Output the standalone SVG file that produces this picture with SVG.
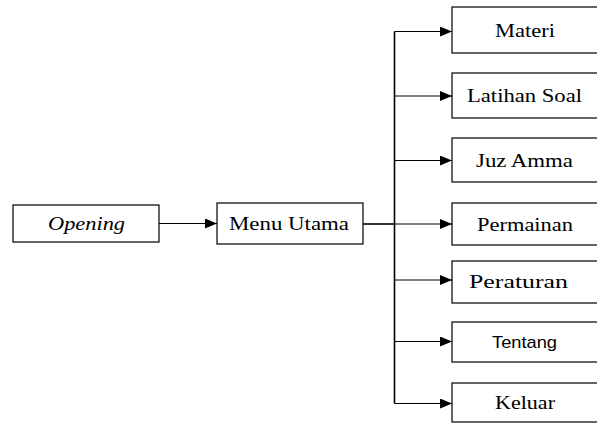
<svg xmlns="http://www.w3.org/2000/svg" width="597" height="423" viewBox="0 0 597 423">
  <defs>
    <marker id="arrow" viewBox="0 0 12 10" refX="12" refY="5" markerWidth="12" markerHeight="10" markerUnits="userSpaceOnUse" orient="auto">
      <path d="M0,0 L12,5 L0,10 Z" fill="#000"/>
    </marker>
  </defs>
  <style>
    .box { fill: #fff; stroke: #000; stroke-width: 1.2; }
    .lbl { font-family: "Liberation Serif", "Times New Roman", serif; font-size: 19px; fill: #000; text-anchor: middle; }
    .sans { font-family: "Liberation Sans", Arial, sans-serif; font-size: 17px; }
    .link { fill: none; stroke: #000; stroke-width: 1; }
    .trunk { fill: none; stroke: #000; stroke-width: 1.6; }
  </style>

  <!-- connectors -->
  <g id="connectors">
    <line class="link" x1="159" y1="223.5" x2="217" y2="223.5" marker-end="url(#arrow)"/>
    <line class="trunk" x1="363" y1="224" x2="394.5" y2="224"/>
    <line class="trunk" x1="394.5" y1="31.5" x2="394.5" y2="403.5"/>
    <line class="link" x1="394.5" y1="31.5" x2="452" y2="31.5" marker-end="url(#arrow)"/>
    <line class="link" x1="394.5" y1="96" x2="452" y2="96" marker-end="url(#arrow)"/>
    <line class="link" x1="394.5" y1="160.5" x2="452" y2="160.5" marker-end="url(#arrow)"/>
    <line class="link" x1="394.5" y1="224" x2="452" y2="224" marker-end="url(#arrow)"/>
    <line class="link" x1="394.5" y1="280" x2="452" y2="280" marker-end="url(#arrow)"/>
    <line class="link" x1="394.5" y1="341.5" x2="452" y2="341.5" marker-end="url(#arrow)"/>
    <line class="link" x1="394.5" y1="403.5" x2="452" y2="403.5" marker-end="url(#arrow)"/>
  </g>

  <!-- nodes -->
  <g id="opening">
    <rect class="box" x="13" y="205" width="146" height="37"/>
    <text class="lbl" x="86.5" y="230" font-style="italic" textLength="77" lengthAdjust="spacingAndGlyphs">Opening</text>
  </g>
  <g id="menu-utama">
    <rect class="box" x="217" y="203" width="146" height="41"/>
    <text class="lbl" x="289" y="230" textLength="120" lengthAdjust="spacingAndGlyphs">Menu Utama</text>
  </g>
  <g id="materi">
    <rect class="box" x="452" y="7" width="150" height="46"/>
    <text class="lbl" x="525" y="37" textLength="60" lengthAdjust="spacingAndGlyphs">Materi</text>
  </g>
  <g id="latihan-soal">
    <rect class="box" x="452" y="73" width="150" height="45"/>
    <text class="lbl" x="524.5" y="102" textLength="115" lengthAdjust="spacingAndGlyphs">Latihan Soal</text>
  </g>
  <g id="juz-amma">
    <rect class="box" x="452" y="138" width="150" height="44"/>
    <text class="lbl" x="524.5" y="167" textLength="97" lengthAdjust="spacingAndGlyphs">Juz Amma</text>
  </g>
  <g id="permainan">
    <rect class="box" x="452" y="203" width="150" height="42"/>
    <text class="lbl" x="525" y="231" textLength="96" lengthAdjust="spacingAndGlyphs">Permainan</text>
  </g>
  <g id="peraturan">
    <rect class="box" x="452" y="261" width="150" height="42"/>
    <text class="lbl" x="518.5" y="288" textLength="99" lengthAdjust="spacingAndGlyphs">Peraturan</text>
  </g>
  <g id="tentang">
    <rect class="box" x="452" y="322" width="150" height="40"/>
    <text class="lbl sans" x="524.5" y="348" textLength="65" lengthAdjust="spacingAndGlyphs">Tentang</text>
  </g>
  <g id="keluar">
    <rect class="box" x="452" y="383" width="150" height="39"/>
    <text class="lbl" x="525" y="409" textLength="60" lengthAdjust="spacingAndGlyphs">Keluar</text>
  </g>
</svg>
